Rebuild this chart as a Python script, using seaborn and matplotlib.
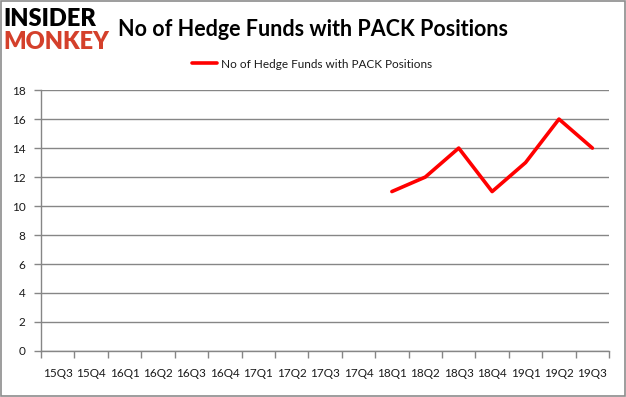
import numpy as np
import pandas as pd
import matplotlib
matplotlib.use("Agg")
import matplotlib.pyplot as plt
import seaborn as sns

quarters = ["15Q3", "15Q4", "16Q1", "16Q2", "16Q3", "16Q4", "17Q1", "17Q2", "17Q3",
            "17Q4", "18Q1", "18Q2", "18Q3", "18Q4", "19Q1", "19Q2", "19Q3"]
hedge_funds = [None, None, None, None, None, None, None, None, None,
               None, 11, 12, 14, 11, 13, 16, 14]
series_name = "No of Hedge Funds with PACK Positions"

df = pd.DataFrame({"quarter": quarters, "funds": hedge_funds})
df["pos"] = np.arange(len(quarters))
df = df.dropna()

sns.set_style("white")
plt.rcParams["font.family"] = ["Lato", "DejaVu Sans"]

fig = plt.figure(figsize=(6.26, 3.97), dpi=100)
ax = fig.add_axes([0.0655, 0.116, 0.9075, 0.657])

sns.lineplot(data=df, x="pos", y="funds", color="#ff0000", linewidth=2.6,
             label=series_name, ax=ax)

ax.set_xlim(-0.5, len(quarters) - 0.5)
ax.set_ylim(0, 18)
ax.set_yticks(range(0, 19, 2))
ax.yaxis.grid(True, color="#868686", linewidth=1)
ax.xaxis.grid(False)
ax.set_xlabel("")
ax.set_ylabel("")

# category labels centred, tick marks between categories
ax.set_xticks(np.arange(len(quarters)))
ax.set_xticklabels(quarters, fontsize=8.5, color="#1a1a1a")
ax.set_xticks(np.arange(-0.5, len(quarters)), minor=True)
ax.tick_params(axis="x", which="major", bottom=True, length=0, pad=12)
ax.tick_params(axis="x", which="minor", bottom=True, length=5, color="#868686",
               width=1, direction="out")
ax.tick_params(axis="y", left=True, length=5, color="#868686", width=1, labelsize=8.5,
               labelcolor="#1a1a1a", pad=6, direction="out")

for side in ["top", "right"]:
    ax.spines[side].set_visible(False)
for side in ["left", "bottom"]:
    ax.spines[side].set_color("#868686")
    ax.spines[side].set_linewidth(1)

leg = ax.legend(loc="center", bbox_to_anchor=(0.477, 1.1), frameon=False,
                fontsize=8.5, handlelength=2.1, handletextpad=0.35)
for t in leg.get_texts():
    t.set_color("#1a1a1a")

fig.text(0.5, 0.926, "No of Hedge Funds with PACK Positions", ha="center", va="center",
         fontsize=15.5, fontweight="bold", color="#000000")

# logo
fig.text(0.006, 0.953, "INSIDER", ha="left", va="center", fontsize=17,
         fontweight="heavy", color="#000000")
fig.text(0.006, 0.895, "MONKEY", ha="left", va="center", fontsize=17,
         fontweight="heavy", color="#d4402b")

# outer border
fig.patches.append(plt.Rectangle((0.001, 0.002), 0.997, 0.996, transform=fig.transFigure,
                                 fill=False, edgecolor="#8c8c8c", linewidth=1.2))

fig.savefig("out.png", dpi=100)
